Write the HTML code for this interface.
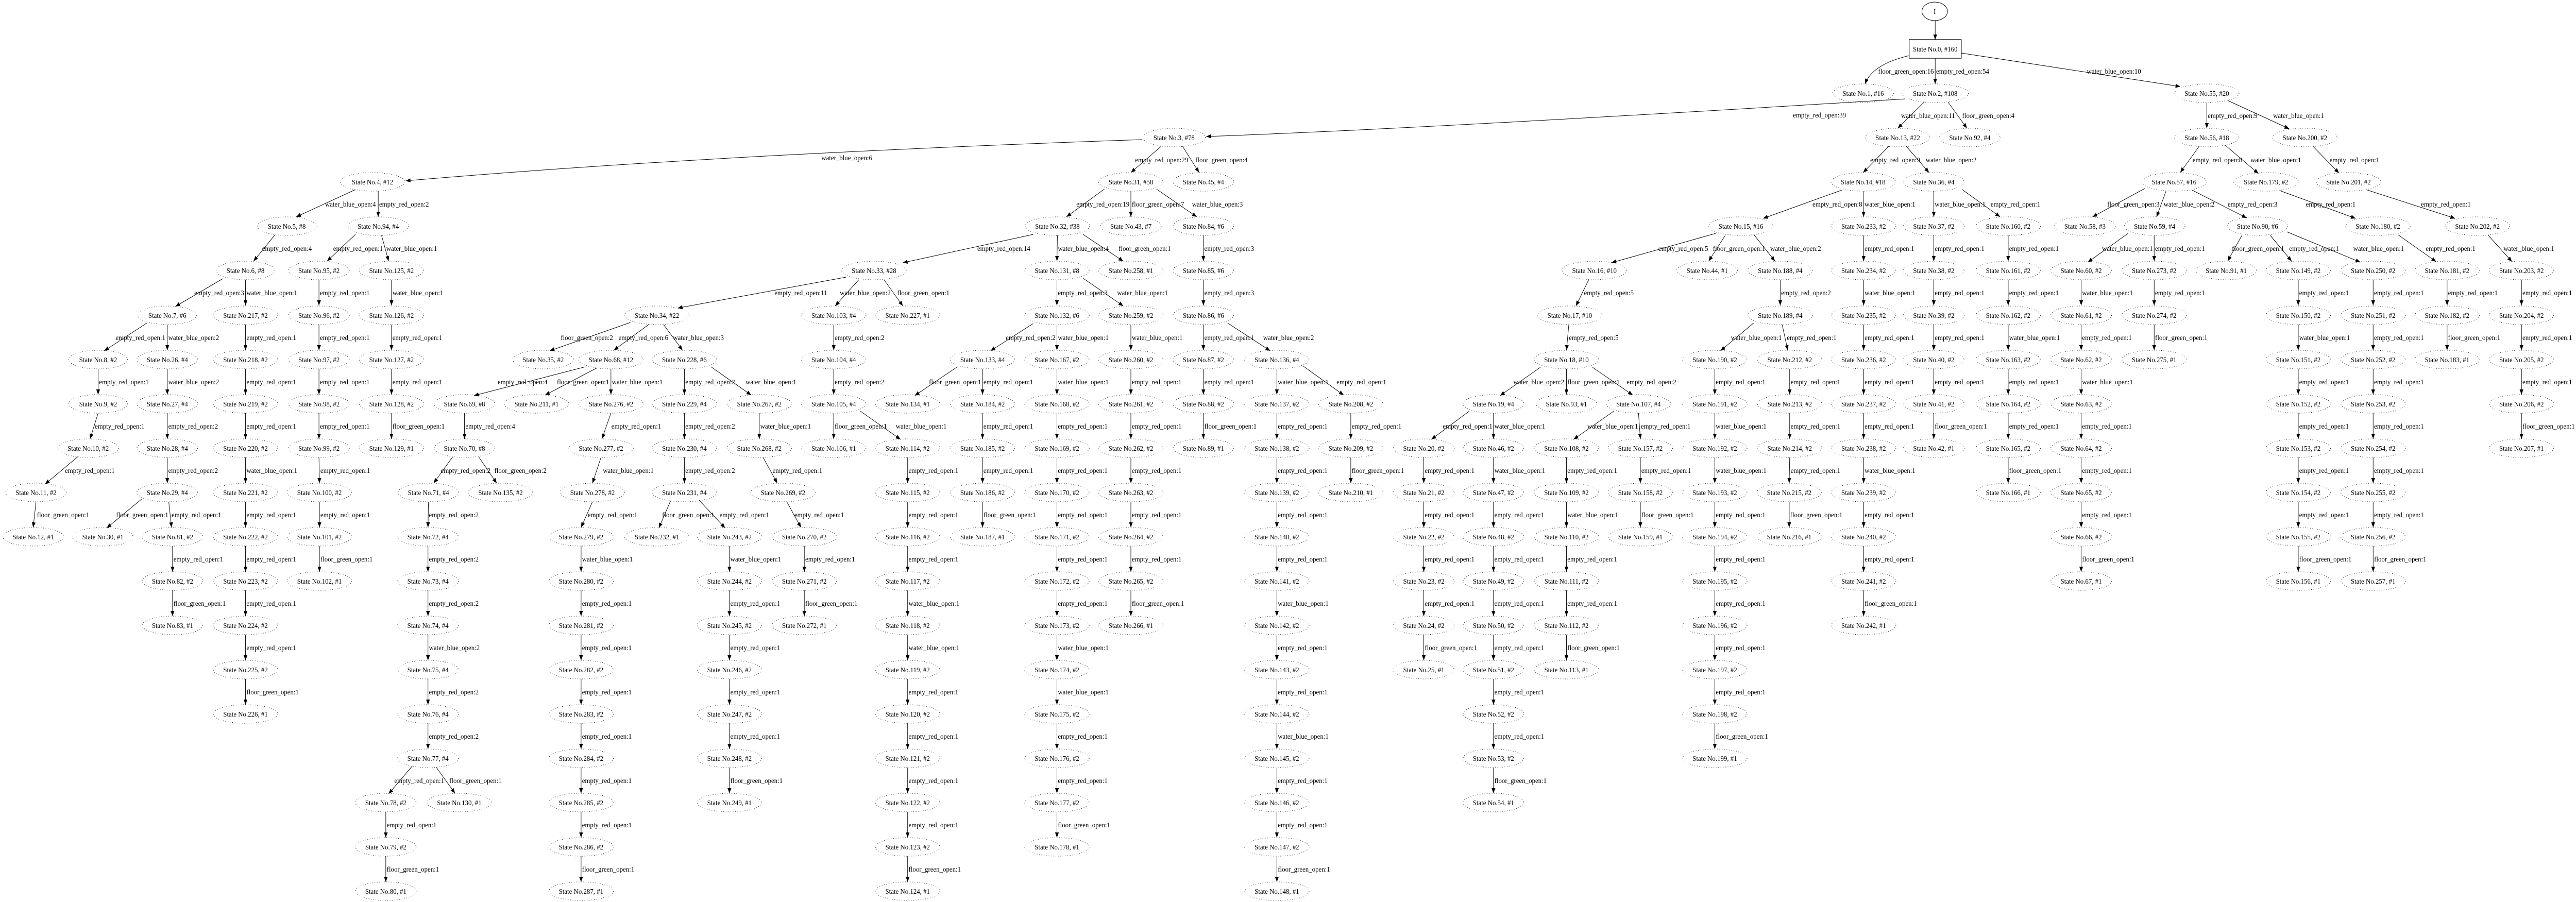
<!DOCTYPE html>
<html><head><meta charset="utf-8"><style>
html,body{margin:0;padding:0;background:#fff;overflow:hidden;width:100%;height:100%}
svg{display:block;width:100vw;height:100vh}
svg text{font-family:"Liberation Serif",serif;font-size:14px;fill:#000}
.n text{text-anchor:middle}
.n ellipse{fill:none;stroke:#000;stroke-width:1;stroke-dasharray:1 4}
.l path{fill:none;stroke:#000;stroke-width:1;marker-end:url(#a)}
.l text{text-anchor:start}
.l text.e{text-anchor:end}
</style></head><body>
<svg width="5435" height="1751" viewBox="0 0 5435 1751" preserveAspectRatio="none" xmlns="http://www.w3.org/2000/svg">
<defs><marker id="a" markerUnits="userSpaceOnUse" markerWidth="10" markerHeight="8" refX="10" refY="4" orient="auto"><path d="M0,0 L10,4 L0,8 z" fill="#000" stroke="none"/></marker></defs>
<rect width="5435" height="1751" fill="#fff"/>

<!-- root -->
<g class="n"><ellipse cx="4082" cy="22" rx="27" ry="18" style="stroke-dasharray:none"/><text x="4082" y="27">I</text>
<rect x="4028" y="77" width="110" height="36" fill="none" stroke="#000" stroke-width="1.3"/><text x="4083" y="100">State No.0, #160</text></g>
<g class="l">
<path d="M4083 40V77"/>
<path d="M4028 108Q3950 125 3935 163"/><text class="e" x="4080" y="143">floor_green_open:16</text>
<path d="M4083 113V163"/><text x="4085" y="143">empty_red_open:54</text>
<path d="M4138 103L4600 168"/><text x="4403" y="143">water_blue_open:10</text>
<path d="M4020 192Q3000 250 2545 265"/><text x="3783" y="228">empty_red_open:39</text>
<path d="M2410 271Q1500 300 856 351"/><text x="1733" y="311">water_blue_open:6</text>
</g>

<!-- r1 -->
<g transform="translate(0,181)">
<g class="n">
<ellipse cx="3931" rx="64" ry="18"/><text x="3931" y="5">State No.1, #16</text>
<ellipse cx="4083" rx="70" ry="18"/><text x="4083" y="5">State No.2, #108</text>
<ellipse cx="4656" rx="68" ry="18"/><text x="4656" y="5">State No.55, #20</text>
</g><g class="l">
<path d="M4060 17L4004 68"/><text x="4011" y="48">water_blue_open:11</text>
<path d="M4110 17L4150 68"/><text x="4140" y="48">floor_green_open:4</text>
<path d="M4656 18V68"/><text x="4658" y="48">empty_red_open:9</text>
<path d="M4700 14L4830 69"/><text x="4796" y="48">water_blue_open:1</text>
</g></g>

<!-- r2 -->
<g transform="translate(0,267)">
<g class="n">
<ellipse cx="2477" rx="66" ry="18"/><text x="2477" y="5">State No.3, #78</text>
<ellipse cx="4004" rx="68" ry="18"/><text x="4004" y="5">State No.13, #22</text>
<ellipse cx="4156" rx="64" ry="18"/><text x="4156" y="5">State No.92, #4</text>
<ellipse cx="4656" rx="68" ry="18"/><text x="4656" y="5">State No.56, #18</text>
<ellipse cx="4863" rx="68" ry="18"/><text x="4863" y="5">State No.200, #2</text>
</g><g class="l">
<path d="M2450 17L2386 68"/><text x="2395" y="48">empty_red_open:29</text>
<path d="M2495 17L2530 68"/><text x="2522" y="48">floor_green_open:4</text>
<path d="M3985 17L3931 68"/><text x="3946" y="48">empty_red_open:9</text>
<path d="M4022 17L4070 68"/><text x="4063" y="48">water_blue_open:2</text>
<path d="M4640 17L4600 68"/><text x="4626" y="48">empty_red_open:8</text>
<path d="M4695 15L4765 70"/><text x="4748" y="48">water_blue_open:1</text>
<path d="M4880 17L4935 69"/><text x="4915" y="48">empty_red_open:1</text>
</g></g>

<!-- r3 -->
<g transform="translate(0,353)">
<g class="n">
<ellipse cx="786" rx="68" ry="18"/><text x="786" y="5">State No.4, #12</text>
<ellipse cx="2386" rx="68" ry="18"/><text x="2386" y="5">State No.31, #58</text>
<ellipse cx="2539" rx="64" ry="18"/><text x="2539" y="5">State No.45, #4</text>
<ellipse cx="3931" rx="68" ry="18"/><text x="3931" y="5">State No.14, #18</text>
<ellipse cx="4080" rx="64" ry="18"/><text x="4080" y="5">State No.36, #4</text>
<ellipse cx="4587" rx="68" ry="18"/><text x="4587" y="5">State No.57, #16</text>
<ellipse cx="4781" rx="68" ry="18"/><text x="4781" y="5">State No.179, #2</text>
<ellipse cx="4955" rx="68" ry="18"/><text x="4955" y="5">State No.201, #2</text>
</g><g class="l">
<path d="M750 15L625 68"/><text class="e" x="793" y="48">water_blue_open:4</text>
<path d="M798 18V68"/><text x="800" y="48">empty_red_open:2</text>
<path d="M2330 14L2250 68"/><text x="2271" y="48">empty_red_open:19</text>
<path d="M2386 18V68"/><text x="2388" y="48">floor_green_open:7</text>
<path d="M2440 14L2525 68"/><text x="2515" y="48">water_blue_open:3</text>
<path d="M3886 16L3720 71"/><text class="e" x="3929" y="48">empty_red_open:8</text>
<path d="M3931 18L3932 68"/><text x="3934" y="48">water_blue_open:1</text>
<path d="M4080 18V68"/><text x="4082" y="48">water_blue_open:1</text>
<path d="M4140 15L4220 68"/><text x="4200" y="48">empty_red_open:1</text>
<path d="M4525 13L4415 68"/><text x="4446" y="48">floor_green_open:3</text>
<path d="M4570 18L4550 68"/><text x="4565" y="48">water_blue_open:2</text>
<path d="M4625 16L4740 70"/><text x="4700" y="48">empty_red_open:3</text>
<path d="M4810 17L4970 71"/><text x="4865" y="48">empty_red_open:1</text>
<path d="M4995 16L5180 71"/><text x="5108" y="48">empty_red_open:1</text>
</g></g>

<!-- r4 -->
<g transform="translate(0,439)">
<g class="n">
<ellipse cx="605" rx="62" ry="18"/><text x="605" y="5">State No.5, #8</text>
<ellipse cx="798" rx="64" ry="18"/><text x="798" y="5">State No.94, #4</text>
<ellipse cx="2231" rx="68" ry="18"/><text x="2231" y="5">State No.32, #38</text>
<ellipse cx="2386" rx="64" ry="18"/><text x="2386" y="5">State No.43, #7</text>
<ellipse cx="2539" rx="64" ry="18"/><text x="2539" y="5">State No.84, #6</text>
<ellipse cx="3673" rx="68" ry="18"/><text x="3673" y="5">State No.15, #16</text>
<ellipse cx="3932" rx="68" ry="18"/><text x="3932" y="5">State No.233, #2</text>
<ellipse cx="4080" rx="64" ry="18"/><text x="4080" y="5">State No.37, #2</text>
<ellipse cx="4237" rx="68" ry="18"/><text x="4237" y="5">State No.160, #2</text>
<ellipse cx="4399" rx="64" ry="18"/><text x="4399" y="5">State No.58, #3</text>
<ellipse cx="4546" rx="64" ry="18"/><text x="4546" y="5">State No.59, #4</text>
<ellipse cx="4763" rx="64" ry="18"/><text x="4763" y="5">State No.90, #6</text>
<ellipse cx="5017" rx="68" ry="18"/><text x="5017" y="5">State No.180, #2</text>
<ellipse cx="5227" rx="68" ry="18"/><text x="5227" y="5">State No.202, #2</text>
</g><g class="l">
<path d="M580 17L535 68"/><text x="553" y="48">empty_red_open:4</text>
<path d="M750 16L690 68"/><text x="703" y="48">empty_red_open:1</text>
<path d="M805 18L820 68"/><text x="815" y="48">water_blue_open:1</text>
<path d="M2180 16L1905 71"/><text x="2062" y="48">empty_red_open:14</text>
<path d="M2231 18L2230 68"/><text x="2232" y="48">water_blue_open:4</text>
<path d="M2285 16L2370 68"/><text x="2360" y="48">floor_green_open:1</text>
<path d="M2539 18V68"/><text x="2541" y="48">empty_red_open:3</text>
<path d="M3620 14L3400 71"/><text class="e" x="3604" y="48">empty_red_open:5</text>
<path d="M3640 18L3605 68"/><text x="3614" y="48">floor_green_open:1</text>
<path d="M3700 16L3745 68"/><text x="3735" y="48">water_blue_open:2</text>
<path d="M3932 18V68"/><text x="3934" y="48">empty_red_open:1</text>
<path d="M4080 18V68"/><text x="4082" y="48">empty_red_open:1</text>
<path d="M4237 18V68"/><text x="4239" y="48">empty_red_open:1</text>
<path d="M4490 14L4405 70"/><text x="4435" y="48">water_blue_open:1</text>
<path d="M4545 18V68"/><text x="4547" y="48">empty_red_open:1</text>
<path d="M4730 18L4700 68"/><text x="4709" y="48">floor_green_open:1</text>
<path d="M4790 18L4835 68"/><text x="4830" y="48">empty_red_open:1</text>
<path d="M4825 11L4980 70"/><text x="4965" y="48">water_blue_open:1</text>
<path d="M5060 17L5140 69"/><text x="5118" y="48">empty_red_open:1</text>
<path d="M5250 18L5300 69"/><text x="5282" y="48">water_blue_open:1</text>
</g></g>

<!-- r5 -->
<g transform="translate(0,525)">
<g class="n">
<ellipse cx="518" rx="62" ry="18"/><text x="518" y="5">State No.6, #8</text>
<ellipse cx="673" rx="64" ry="18"/><text x="673" y="5">State No.95, #2</text>
<ellipse cx="826" rx="68" ry="18"/><text x="826" y="5">State No.125, #2</text>
<ellipse cx="1844" rx="68" ry="18"/><text x="1844" y="5">State No.33, #28</text>
<ellipse cx="2230" rx="68" ry="18"/><text x="2230" y="5">State No.131, #8</text>
<ellipse cx="2386" rx="68" ry="18"/><text x="2386" y="5">State No.258, #1</text>
<ellipse cx="2539" rx="64" ry="18"/><text x="2539" y="5">State No.85, #6</text>
<ellipse cx="3364" rx="68" ry="18"/><text x="3364" y="5">State No.16, #10</text>
<ellipse cx="3602" rx="64" ry="18"/><text x="3602" y="5">State No.44, #1</text>
<ellipse cx="3756" rx="68" ry="18"/><text x="3756" y="5">State No.188, #4</text>
<ellipse cx="3932" rx="68" ry="18"/><text x="3932" y="5">State No.234, #2</text>
<ellipse cx="4080" rx="64" ry="18"/><text x="4080" y="5">State No.38, #2</text>
<ellipse cx="4237" rx="68" ry="18"/><text x="4237" y="5">State No.161, #2</text>
<ellipse cx="4391" rx="64" ry="18"/><text x="4391" y="5">State No.60, #2</text>
<ellipse cx="4545" rx="68" ry="18"/><text x="4545" y="5">State No.273, #2</text>
<ellipse cx="4697" rx="64" ry="18"/><text x="4697" y="5">State No.91, #1</text>
<ellipse cx="4849" rx="68" ry="18"/><text x="4849" y="5">State No.149, #2</text>
<ellipse cx="5007" rx="68" ry="18"/><text x="5007" y="5">State No.250, #2</text>
<ellipse cx="5163" rx="68" ry="18"/><text x="5163" y="5">State No.181, #2</text>
<ellipse cx="5320" rx="68" ry="18"/><text x="5320" y="5">State No.203, #2</text>
</g><g class="l">
<path d="M470 16L370 70"/><text x="410" y="48">empty_red_open:3</text>
<path d="M518 18V68"/><text x="520" y="48">water_blue_open:1</text>
<path d="M673 18V68"/><text x="675" y="48">empty_red_open:1</text>
<path d="M826 18V68"/><text x="828" y="48">water_blue_open:1</text>
<path d="M1785 13L1430 73"/><text x="1634" y="48">empty_red_open:11</text>
<path d="M1812 18L1762 69"/><text x="1772" y="48">water_blue_open:2</text>
<path d="M1865 18L1905 69"/><text x="1893" y="48">floor_green_open:1</text>
<path d="M2230 18V68"/><text x="2232" y="48">empty_red_open:3</text>
<path d="M2285 15L2370 69"/><text x="2357" y="48">water_blue_open:1</text>
<path d="M2539 18V68"/><text x="2541" y="48">empty_red_open:3</text>
<path d="M3352 18L3325 69"/><text x="3342" y="48">empty_red_open:5</text>
<path d="M3756 18V68"/><text x="3758" y="48">empty_red_open:2</text>
<path d="M3932 18V68"/><text x="3934" y="48">water_blue_open:1</text>
<path d="M4080 18V68"/><text x="4082" y="48">empty_red_open:1</text>
<path d="M4237 18V68"/><text x="4239" y="48">empty_red_open:1</text>
<path d="M4391 18V68"/><text x="4393" y="48">water_blue_open:1</text>
<path d="M4545 18V68"/><text x="4547" y="48">empty_red_open:1</text>
<path d="M4849 18V68"/><text x="4851" y="48">empty_red_open:1</text>
<path d="M5007 18V68"/><text x="5009" y="48">empty_red_open:1</text>
<path d="M5163 18V68"/><text x="5165" y="48">empty_red_open:1</text>
<path d="M5320 18V68"/><text x="5322" y="48">empty_red_open:1</text>
</g></g>

<!-- r6 -->
<g transform="translate(0,612)">
<g class="n">
<ellipse cx="353" rx="62" ry="18"/><text x="353" y="5">State No.7, #6</text>
<ellipse cx="518" rx="68" ry="18"/><text x="518" y="5">State No.217, #2</text>
<ellipse cx="673" rx="64" ry="18"/><text x="673" y="5">State No.96, #2</text>
<ellipse cx="826" rx="68" ry="18"/><text x="826" y="5">State No.126, #2</text>
<ellipse cx="1386" rx="68" ry="18"/><text x="1386" y="5">State No.34, #22</text>
<ellipse cx="1759" rx="68" ry="18"/><text x="1759" y="5">State No.103, #4</text>
<ellipse cx="1915" rx="68" ry="18"/><text x="1915" y="5">State No.227, #1</text>
<ellipse cx="2230" rx="68" ry="18"/><text x="2230" y="5">State No.132, #6</text>
<ellipse cx="2386" rx="68" ry="18"/><text x="2386" y="5">State No.259, #2</text>
<ellipse cx="2539" rx="64" ry="18"/><text x="2539" y="5">State No.86, #6</text>
<ellipse cx="3312" rx="68" ry="18"/><text x="3312" y="5">State No.17, #10</text>
<ellipse cx="3756" rx="68" ry="18"/><text x="3756" y="5">State No.189, #4</text>
<ellipse cx="3932" rx="68" ry="18"/><text x="3932" y="5">State No.235, #2</text>
<ellipse cx="4080" rx="64" ry="18"/><text x="4080" y="5">State No.39, #2</text>
<ellipse cx="4237" rx="68" ry="18"/><text x="4237" y="5">State No.162, #2</text>
<ellipse cx="4391" rx="64" ry="18"/><text x="4391" y="5">State No.61, #2</text>
<ellipse cx="4545" rx="68" ry="18"/><text x="4545" y="5">State No.274, #2</text>
<ellipse cx="4849" rx="68" ry="18"/><text x="4849" y="5">State No.150, #2</text>
<ellipse cx="5007" rx="68" ry="18"/><text x="5007" y="5">State No.251, #2</text>
<ellipse cx="5163" rx="68" ry="18"/><text x="5163" y="5">State No.182, #2</text>
<ellipse cx="5320" rx="68" ry="18"/><text x="5320" y="5">State No.204, #2</text>
</g><g class="l">
<path d="M310 15L220 69"/><text x="244" y="48">empty_red_open:1</text>
<path d="M353 18V68"/><text x="355" y="48">water_blue_open:2</text>
<path d="M518 18V68"/><text x="520" y="48">empty_red_open:1</text>
<path d="M673 18V68"/><text x="675" y="48">empty_red_open:1</text>
<path d="M826 18V68"/><text x="828" y="48">empty_red_open:1</text>
<path d="M1330 14L1160 69"/><text x="1183" y="48">floor_green_open:2</text>
<path d="M1370 17L1295 68"/><text x="1305" y="48">empty_red_open:6</text>
<path d="M1400 18L1440 68"/><text x="1420" y="48">water_blue_open:3</text>
<path d="M1759 18V68"/><text x="1761" y="48">empty_red_open:2</text>
<path d="M2180 16L2090 69"/><text x="2122" y="48">empty_red_open:2</text>
<path d="M2230 18V68"/><text x="2232" y="48">water_blue_open:1</text>
<path d="M2386 18V68"/><text x="2388" y="48">water_blue_open:1</text>
<path d="M2539 18V68"/><text x="2541" y="48">empty_red_open:1</text>
<path d="M2590 15L2680 69"/><text x="2665" y="48">water_blue_open:2</text>
<path d="M3310 18L3305 68"/><text x="3310" y="48">empty_red_open:5</text>
<path d="M3700 15L3630 69"/><text x="3652" y="48">water_blue_open:1</text>
<path d="M3760 18L3772 68"/><text x="3770" y="48">empty_red_open:1</text>
<path d="M3932 18V68"/><text x="3934" y="48">empty_red_open:1</text>
<path d="M4080 18V68"/><text x="4082" y="48">empty_red_open:1</text>
<path d="M4237 18V68"/><text x="4239" y="48">water_blue_open:1</text>
<path d="M4391 18V68"/><text x="4393" y="48">empty_red_open:1</text>
<path d="M4545 18V68"/><text x="4547" y="48">floor_green_open:1</text>
<path d="M4849 18V68"/><text x="4851" y="48">water_blue_open:1</text>
<path d="M5007 18V68"/><text x="5009" y="48">empty_red_open:1</text>
<path d="M5163 18V68"/><text x="5165" y="48">floor_green_open:1</text>
<path d="M5320 18V68"/><text x="5322" y="48">empty_red_open:1</text>
</g></g>

<!-- r7 -->
<g transform="translate(0,698)">
<g class="n">
<ellipse cx="207" rx="62" ry="18"/><text x="207" y="5">State No.8, #2</text>
<ellipse cx="353" rx="64" ry="18"/><text x="353" y="5">State No.26, #4</text>
<ellipse cx="518" rx="68" ry="18"/><text x="518" y="5">State No.218, #2</text>
<ellipse cx="673" rx="64" ry="18"/><text x="673" y="5">State No.97, #2</text>
<ellipse cx="826" rx="68" ry="18"/><text x="826" y="5">State No.127, #2</text>
<ellipse cx="1146" rx="64" ry="18"/><text x="1146" y="5">State No.35, #2</text>
<ellipse cx="1289" rx="68" ry="18"/><text x="1289" y="5">State No.68, #12</text>
<ellipse cx="1444" rx="68" ry="18"/><text x="1444" y="5">State No.228, #6</text>
<ellipse cx="1759" rx="68" ry="18"/><text x="1759" y="5">State No.104, #4</text>
<ellipse cx="2073" rx="68" ry="18"/><text x="2073" y="5">State No.133, #4</text>
<ellipse cx="2230" rx="68" ry="18"/><text x="2230" y="5">State No.167, #2</text>
<ellipse cx="2386" rx="68" ry="18"/><text x="2386" y="5">State No.260, #2</text>
<ellipse cx="2539" rx="64" ry="18"/><text x="2539" y="5">State No.87, #2</text>
<ellipse cx="2694" rx="68" ry="18"/><text x="2694" y="5">State No.136, #4</text>
<ellipse cx="3305" rx="68" ry="18"/><text x="3305" y="5">State No.18, #10</text>
<ellipse cx="3618" rx="68" ry="18"/><text x="3618" y="5">State No.190, #2</text>
<ellipse cx="3776" rx="68" ry="18"/><text x="3776" y="5">State No.212, #2</text>
<ellipse cx="3932" rx="68" ry="18"/><text x="3932" y="5">State No.236, #2</text>
<ellipse cx="4080" rx="64" ry="18"/><text x="4080" y="5">State No.40, #2</text>
<ellipse cx="4237" rx="68" ry="18"/><text x="4237" y="5">State No.163, #2</text>
<ellipse cx="4391" rx="64" ry="18"/><text x="4391" y="5">State No.62, #2</text>
<ellipse cx="4545" rx="68" ry="18"/><text x="4545" y="5">State No.275, #1</text>
<ellipse cx="4849" rx="68" ry="18"/><text x="4849" y="5">State No.151, #2</text>
<ellipse cx="5007" rx="68" ry="18"/><text x="5007" y="5">State No.252, #2</text>
<ellipse cx="5163" rx="68" ry="18"/><text x="5163" y="5">State No.183, #1</text>
<ellipse cx="5320" rx="68" ry="18"/><text x="5320" y="5">State No.205, #2</text>
</g><g class="l">
<path d="M207 18V68"/><text x="209" y="48">empty_red_open:1</text>
<path d="M353 18V68"/><text x="355" y="48">water_blue_open:2</text>
<path d="M518 18V68"/><text x="520" y="48">empty_red_open:1</text>
<path d="M673 18V68"/><text x="675" y="48">empty_red_open:1</text>
<path d="M826 18V68"/><text x="828" y="48">empty_red_open:1</text>
<path d="M1235 14L1000 70"/><text x="1050" y="48">empty_red_open:4</text>
<path d="M1260 16L1150 69"/><text x="1175" y="48">floor_green_open:1</text>
<path d="M1289 18V68"/><text x="1291" y="48">water_blue_open:1</text>
<path d="M1444 18V68"/><text x="1446" y="48">empty_red_open:2</text>
<path d="M1500 14L1585 69"/><text x="1573" y="48">water_blue_open:1</text>
<path d="M1759 18V68"/><text x="1761" y="48">empty_red_open:2</text>
<path d="M2020 14L1930 70"/><text x="1960" y="48">floor_green_open:1</text>
<path d="M2073 18V68"/><text x="2075" y="48">empty_red_open:1</text>
<path d="M2230 18V68"/><text x="2232" y="48">water_blue_open:1</text>
<path d="M2386 18V68"/><text x="2388" y="48">empty_red_open:1</text>
<path d="M2539 18V68"/><text x="2541" y="48">empty_red_open:1</text>
<path d="M2694 18V68"/><text x="2696" y="48">water_blue_open:1</text>
<path d="M2750 13L2835 69"/><text x="2820" y="48">empty_red_open:1</text>
<path d="M3250 15L3165 70"/><text x="3193" y="48">water_blue_open:2</text>
<path d="M3305 18V68"/><text x="3307" y="48">floor_green_open:1</text>
<path d="M3360 15L3445 69"/><text x="3432" y="48">empty_red_open:2</text>
<path d="M3618 18V68"/><text x="3620" y="48">empty_red_open:1</text>
<path d="M3776 18V68"/><text x="3778" y="48">empty_red_open:1</text>
<path d="M3932 18V68"/><text x="3934" y="48">empty_red_open:1</text>
<path d="M4080 18V68"/><text x="4082" y="48">empty_red_open:1</text>
<path d="M4237 18V68"/><text x="4239" y="48">empty_red_open:1</text>
<path d="M4391 18V68"/><text x="4393" y="48">water_blue_open:1</text>
<path d="M4849 18V68"/><text x="4851" y="48">empty_red_open:1</text>
<path d="M5007 18V68"/><text x="5009" y="48">empty_red_open:1</text>
<path d="M5320 18V68"/><text x="5322" y="48">empty_red_open:1</text>
</g></g>

<!-- r8 -->
<g transform="translate(0,784)">
<g class="n">
<ellipse cx="207" rx="62" ry="18"/><text x="207" y="5">State No.9, #2</text>
<ellipse cx="353" rx="64" ry="18"/><text x="353" y="5">State No.27, #4</text>
<ellipse cx="518" rx="68" ry="18"/><text x="518" y="5">State No.219, #2</text>
<ellipse cx="673" rx="64" ry="18"/><text x="673" y="5">State No.98, #2</text>
<ellipse cx="826" rx="68" ry="18"/><text x="826" y="5">State No.128, #2</text>
<ellipse cx="980" rx="64" ry="18"/><text x="980" y="5">State No.69, #8</text>
<ellipse cx="1132" rx="68" ry="18"/><text x="1132" y="5">State No.211, #1</text>
<ellipse cx="1289" rx="68" ry="18"/><text x="1289" y="5">State No.276, #2</text>
<ellipse cx="1444" rx="68" ry="18"/><text x="1444" y="5">State No.229, #4</text>
<ellipse cx="1602" rx="68" ry="18"/><text x="1602" y="5">State No.267, #2</text>
<ellipse cx="1759" rx="68" ry="18"/><text x="1759" y="5">State No.105, #4</text>
<ellipse cx="1915" rx="68" ry="18"/><text x="1915" y="5">State No.134, #1</text>
<ellipse cx="2073" rx="68" ry="18"/><text x="2073" y="5">State No.184, #2</text>
<ellipse cx="2230" rx="68" ry="18"/><text x="2230" y="5">State No.168, #2</text>
<ellipse cx="2386" rx="68" ry="18"/><text x="2386" y="5">State No.261, #2</text>
<ellipse cx="2539" rx="64" ry="18"/><text x="2539" y="5">State No.88, #2</text>
<ellipse cx="2694" rx="68" ry="18"/><text x="2694" y="5">State No.137, #2</text>
<ellipse cx="2850" rx="68" ry="18"/><text x="2850" y="5">State No.208, #2</text>
<ellipse cx="3151" rx="64" ry="18"/><text x="3151" y="5">State No.19, #4</text>
<ellipse cx="3305" rx="64" ry="18"/><text x="3305" y="5">State No.93, #1</text>
<ellipse cx="3457" rx="68" ry="18"/><text x="3457" y="5">State No.107, #4</text>
<ellipse cx="3618" rx="68" ry="18"/><text x="3618" y="5">State No.191, #2</text>
<ellipse cx="3776" rx="68" ry="18"/><text x="3776" y="5">State No.213, #2</text>
<ellipse cx="3932" rx="68" ry="18"/><text x="3932" y="5">State No.237, #2</text>
<ellipse cx="4080" rx="64" ry="18"/><text x="4080" y="5">State No.41, #2</text>
<ellipse cx="4237" rx="68" ry="18"/><text x="4237" y="5">State No.164, #2</text>
<ellipse cx="4391" rx="64" ry="18"/><text x="4391" y="5">State No.63, #2</text>
<ellipse cx="4849" rx="68" ry="18"/><text x="4849" y="5">State No.152, #2</text>
<ellipse cx="5007" rx="68" ry="18"/><text x="5007" y="5">State No.253, #2</text>
<ellipse cx="5320" rx="68" ry="18"/><text x="5320" y="5">State No.206, #2</text>
</g><g class="l">
<path d="M207 18L190 68"/><text x="200" y="48">empty_red_open:1</text>
<path d="M353 18V68"/><text x="355" y="48">empty_red_open:2</text>
<path d="M518 18V68"/><text x="520" y="48">empty_red_open:1</text>
<path d="M673 18V68"/><text x="675" y="48">empty_red_open:1</text>
<path d="M826 18V68"/><text x="828" y="48">floor_green_open:1</text>
<path d="M980 18V68"/><text x="982" y="48">empty_red_open:4</text>
<path d="M1289 18L1270 68"/><text x="1290" y="48">empty_red_open:1</text>
<path d="M1444 18V68"/><text x="1446" y="48">empty_red_open:2</text>
<path d="M1602 18V68"/><text x="1604" y="48">water_blue_open:1</text>
<path d="M1759 18V68"/><text x="1761" y="48">floor_green_open:1</text>
<path d="M1815 14L1900 69"/><text x="1890" y="48">water_blue_open:1</text>
<path d="M2073 18V68"/><text x="2075" y="48">empty_red_open:1</text>
<path d="M2230 18V68"/><text x="2232" y="48">empty_red_open:1</text>
<path d="M2386 18V68"/><text x="2388" y="48">empty_red_open:1</text>
<path d="M2539 18V68"/><text x="2541" y="48">floor_green_open:1</text>
<path d="M2694 18V68"/><text x="2696" y="48">empty_red_open:1</text>
<path d="M2850 18V68"/><text x="2852" y="48">empty_red_open:1</text>
<path d="M3100 14L3020 69"/><text x="3044" y="48">empty_red_open:1</text>
<path d="M3151 18V68"/><text x="3153" y="48">water_blue_open:1</text>
<path d="M3405 14L3320 69"/><text x="3349" y="48">water_blue_open:1</text>
<path d="M3457 18L3461 68"/><text x="3462" y="48">empty_red_open:1</text>
<path d="M3618 18V68"/><text x="3620" y="48">water_blue_open:1</text>
<path d="M3776 18V68"/><text x="3778" y="48">empty_red_open:1</text>
<path d="M3932 18V68"/><text x="3934" y="48">empty_red_open:1</text>
<path d="M4080 18V68"/><text x="4082" y="48">floor_green_open:1</text>
<path d="M4237 18V68"/><text x="4239" y="48">empty_red_open:1</text>
<path d="M4391 18V68"/><text x="4393" y="48">empty_red_open:1</text>
<path d="M4849 18V68"/><text x="4851" y="48">empty_red_open:1</text>
<path d="M5007 18V68"/><text x="5009" y="48">empty_red_open:1</text>
<path d="M5320 18V68"/><text x="5322" y="48">floor_green_open:1</text>
</g></g>

<!-- r9 -->
<g transform="translate(0,870)">
<g class="n">
<ellipse cx="186" rx="64" ry="18"/><text x="186" y="5">State No.10, #2</text>
<ellipse cx="353" rx="64" ry="18"/><text x="353" y="5">State No.28, #4</text>
<ellipse cx="518" rx="68" ry="18"/><text x="518" y="5">State No.220, #2</text>
<ellipse cx="673" rx="64" ry="18"/><text x="673" y="5">State No.99, #2</text>
<ellipse cx="826" rx="68" ry="18"/><text x="826" y="5">State No.129, #1</text>
<ellipse cx="980" rx="64" ry="18"/><text x="980" y="5">State No.70, #8</text>
<ellipse cx="1268" rx="68" ry="18"/><text x="1268" y="5">State No.277, #2</text>
<ellipse cx="1444" rx="68" ry="18"/><text x="1444" y="5">State No.230, #4</text>
<ellipse cx="1602" rx="68" ry="18"/><text x="1602" y="5">State No.268, #2</text>
<ellipse cx="1759" rx="68" ry="18"/><text x="1759" y="5">State No.106, #1</text>
<ellipse cx="1915" rx="68" ry="18"/><text x="1915" y="5">State No.114, #2</text>
<ellipse cx="2073" rx="68" ry="18"/><text x="2073" y="5">State No.185, #2</text>
<ellipse cx="2230" rx="68" ry="18"/><text x="2230" y="5">State No.169, #2</text>
<ellipse cx="2386" rx="68" ry="18"/><text x="2386" y="5">State No.262, #2</text>
<ellipse cx="2539" rx="64" ry="18"/><text x="2539" y="5">State No.89, #1</text>
<ellipse cx="2694" rx="68" ry="18"/><text x="2694" y="5">State No.138, #2</text>
<ellipse cx="2850" rx="68" ry="18"/><text x="2850" y="5">State No.209, #2</text>
<ellipse cx="3004" rx="64" ry="18"/><text x="3004" y="5">State No.20, #2</text>
<ellipse cx="3151" rx="64" ry="18"/><text x="3151" y="5">State No.46, #2</text>
<ellipse cx="3305" rx="68" ry="18"/><text x="3305" y="5">State No.108, #2</text>
<ellipse cx="3461" rx="68" ry="18"/><text x="3461" y="5">State No.157, #2</text>
<ellipse cx="3618" rx="68" ry="18"/><text x="3618" y="5">State No.192, #2</text>
<ellipse cx="3776" rx="68" ry="18"/><text x="3776" y="5">State No.214, #2</text>
<ellipse cx="3932" rx="68" ry="18"/><text x="3932" y="5">State No.238, #2</text>
<ellipse cx="4080" rx="64" ry="18"/><text x="4080" y="5">State No.42, #1</text>
<ellipse cx="4237" rx="68" ry="18"/><text x="4237" y="5">State No.165, #2</text>
<ellipse cx="4391" rx="64" ry="18"/><text x="4391" y="5">State No.64, #2</text>
<ellipse cx="4849" rx="68" ry="18"/><text x="4849" y="5">State No.153, #2</text>
<ellipse cx="5007" rx="68" ry="18"/><text x="5007" y="5">State No.254, #2</text>
<ellipse cx="5320" rx="68" ry="18"/><text x="5320" y="5">State No.207, #1</text>
</g><g class="l">
<path d="M165 16L95 70"/><text x="137" y="48">empty_red_open:1</text>
<path d="M353 18V68"/><text x="355" y="48">empty_red_open:2</text>
<path d="M518 18V68"/><text x="520" y="48">water_blue_open:1</text>
<path d="M673 18L674 68"/><text x="676" y="48">empty_red_open:1</text>
<path d="M955 17L915 68"/><text x="930" y="48">empty_red_open:2</text>
<path d="M1010 17L1048 68"/><text x="1043" y="48">floor_green_open:2</text>
<path d="M1268 18L1250 68"/><text x="1272" y="48">water_blue_open:1</text>
<path d="M1444 18V68"/><text x="1446" y="48">empty_red_open:2</text>
<path d="M1610 18L1640 68"/><text x="1630" y="48">empty_red_open:1</text>
<path d="M1915 18V68"/><text x="1917" y="48">empty_red_open:1</text>
<path d="M2073 18V68"/><text x="2075" y="48">empty_red_open:1</text>
<path d="M2230 18V68"/><text x="2232" y="48">empty_red_open:1</text>
<path d="M2386 18V68"/><text x="2388" y="48">empty_red_open:1</text>
<path d="M2694 18V68"/><text x="2696" y="48">empty_red_open:1</text>
<path d="M2850 18V68"/><text x="2852" y="48">floor_green_open:1</text>
<path d="M3004 18V68"/><text x="3006" y="48">empty_red_open:1</text>
<path d="M3151 18V68"/><text x="3153" y="48">water_blue_open:1</text>
<path d="M3305 18V68"/><text x="3307" y="48">empty_red_open:1</text>
<path d="M3461 18V68"/><text x="3463" y="48">empty_red_open:1</text>
<path d="M3618 18V68"/><text x="3620" y="48">water_blue_open:1</text>
<path d="M3776 18L3775 68"/><text x="3778" y="48">empty_red_open:1</text>
<path d="M3932 18V68"/><text x="3934" y="48">water_blue_open:1</text>
<path d="M4237 18V68"/><text x="4239" y="48">floor_green_open:1</text>
<path d="M4391 18V68"/><text x="4393" y="48">empty_red_open:1</text>
<path d="M4849 18V68"/><text x="4851" y="48">empty_red_open:1</text>
<path d="M5007 18V68"/><text x="5009" y="48">empty_red_open:1</text>
</g></g>

<!-- r10 -->
<g transform="translate(0,956)">
<g class="n">
<ellipse cx="76" rx="64" ry="18"/><text x="76" y="5">State No.11, #2</text>
<ellipse cx="353" rx="64" ry="18"/><text x="353" y="5">State No.29, #4</text>
<ellipse cx="518" rx="68" ry="18"/><text x="518" y="5">State No.221, #2</text>
<ellipse cx="674" rx="68" ry="18"/><text x="674" y="5">State No.100, #2</text>
<ellipse cx="904" rx="64" ry="18"/><text x="904" y="5">State No.71, #4</text>
<ellipse cx="1056" rx="68" ry="18"/><text x="1056" y="5">State No.135, #2</text>
<ellipse cx="1250" rx="68" ry="18"/><text x="1250" y="5">State No.278, #2</text>
<ellipse cx="1444" rx="68" ry="18"/><text x="1444" y="5">State No.231, #4</text>
<ellipse cx="1652" rx="68" ry="18"/><text x="1652" y="5">State No.269, #2</text>
<ellipse cx="1915" rx="68" ry="18"/><text x="1915" y="5">State No.115, #2</text>
<ellipse cx="2073" rx="68" ry="18"/><text x="2073" y="5">State No.186, #2</text>
<ellipse cx="2230" rx="68" ry="18"/><text x="2230" y="5">State No.170, #2</text>
<ellipse cx="2386" rx="68" ry="18"/><text x="2386" y="5">State No.263, #2</text>
<ellipse cx="2694" rx="68" ry="18"/><text x="2694" y="5">State No.139, #2</text>
<ellipse cx="2850" rx="68" ry="18"/><text x="2850" y="5">State No.210, #1</text>
<ellipse cx="3004" rx="64" ry="18"/><text x="3004" y="5">State No.21, #2</text>
<ellipse cx="3151" rx="64" ry="18"/><text x="3151" y="5">State No.47, #2</text>
<ellipse cx="3305" rx="68" ry="18"/><text x="3305" y="5">State No.109, #2</text>
<ellipse cx="3461" rx="68" ry="18"/><text x="3461" y="5">State No.158, #2</text>
<ellipse cx="3618" rx="68" ry="18"/><text x="3618" y="5">State No.193, #2</text>
<ellipse cx="3775" rx="68" ry="18"/><text x="3775" y="5">State No.215, #2</text>
<ellipse cx="3932" rx="68" ry="18"/><text x="3932" y="5">State No.239, #2</text>
<ellipse cx="4237" rx="68" ry="18"/><text x="4237" y="5">State No.166, #1</text>
<ellipse cx="4391" rx="64" ry="18"/><text x="4391" y="5">State No.65, #2</text>
<ellipse cx="4849" rx="68" ry="18"/><text x="4849" y="5">State No.154, #2</text>
<ellipse cx="5007" rx="68" ry="18"/><text x="5007" y="5">State No.255, #2</text>
</g><g class="l">
<path d="M76 18L70 68"/><text x="78" y="48">floor_green_open:1</text>
<path d="M300 12L225 69"/><text x="245" y="48">floor_green_open:1</text>
<path d="M356 18L362 68"/><text x="362" y="48">empty_red_open:1</text>
<path d="M518 18V68"/><text x="520" y="48">empty_red_open:1</text>
<path d="M674 18V68"/><text x="676" y="48">empty_red_open:1</text>
<path d="M904 18L903 68"/><text x="905" y="48">empty_red_open:2</text>
<path d="M1250 18L1226 68"/><text x="1240" y="48">empty_red_open:1</text>
<path d="M1415 16L1390 69"/><text x="1397" y="48">floor_green_open:1</text>
<path d="M1475 15L1530 69"/><text x="1518" y="48">empty_red_open:1</text>
<path d="M1660 18L1690 68"/><text x="1676" y="48">empty_red_open:1</text>
<path d="M1915 18V68"/><text x="1917" y="48">empty_red_open:1</text>
<path d="M2073 18V68"/><text x="2075" y="48">floor_green_open:1</text>
<path d="M2230 18V68"/><text x="2232" y="48">empty_red_open:1</text>
<path d="M2386 18V68"/><text x="2388" y="48">empty_red_open:1</text>
<path d="M2694 18V68"/><text x="2696" y="48">empty_red_open:1</text>
<path d="M3004 18V68"/><text x="3006" y="48">empty_red_open:1</text>
<path d="M3151 18V68"/><text x="3153" y="48">empty_red_open:1</text>
<path d="M3305 18V68"/><text x="3307" y="48">water_blue_open:1</text>
<path d="M3461 18V68"/><text x="3463" y="48">floor_green_open:1</text>
<path d="M3618 18V68"/><text x="3620" y="48">empty_red_open:1</text>
<path d="M3775 18V68"/><text x="3777" y="48">floor_green_open:1</text>
<path d="M3932 18V68"/><text x="3934" y="48">empty_red_open:1</text>
<path d="M4391 18V68"/><text x="4393" y="48">empty_red_open:1</text>
<path d="M4849 18V68"/><text x="4851" y="48">empty_red_open:1</text>
<path d="M5007 18V68"/><text x="5009" y="48">empty_red_open:1</text>
</g></g>

<!-- r11 -->
<g transform="translate(0,1042)">
<g class="n">
<ellipse cx="70" rx="64" ry="18"/><text x="70" y="5">State No.12, #1</text>
<ellipse cx="217" rx="64" ry="18"/><text x="217" y="5">State No.30, #1</text>
<ellipse cx="364" rx="64" ry="18"/><text x="364" y="5">State No.81, #2</text>
<ellipse cx="518" rx="68" ry="18"/><text x="518" y="5">State No.222, #2</text>
<ellipse cx="674" rx="68" ry="18"/><text x="674" y="5">State No.101, #2</text>
<ellipse cx="903" rx="64" ry="18"/><text x="903" y="5">State No.72, #4</text>
<ellipse cx="1226" rx="68" ry="18"/><text x="1226" y="5">State No.279, #2</text>
<ellipse cx="1386" rx="68" ry="18"/><text x="1386" y="5">State No.232, #1</text>
<ellipse cx="1539" rx="68" ry="18"/><text x="1539" y="5">State No.243, #2</text>
<ellipse cx="1697" rx="68" ry="18"/><text x="1697" y="5">State No.270, #2</text>
<ellipse cx="1915" rx="68" ry="18"/><text x="1915" y="5">State No.116, #2</text>
<ellipse cx="2073" rx="68" ry="18"/><text x="2073" y="5">State No.187, #1</text>
<ellipse cx="2230" rx="68" ry="18"/><text x="2230" y="5">State No.171, #2</text>
<ellipse cx="2386" rx="68" ry="18"/><text x="2386" y="5">State No.264, #2</text>
<ellipse cx="2694" rx="68" ry="18"/><text x="2694" y="5">State No.140, #2</text>
<ellipse cx="3004" rx="64" ry="18"/><text x="3004" y="5">State No.22, #2</text>
<ellipse cx="3151" rx="64" ry="18"/><text x="3151" y="5">State No.48, #2</text>
<ellipse cx="3305" rx="68" ry="18"/><text x="3305" y="5">State No.110, #2</text>
<ellipse cx="3461" rx="68" ry="18"/><text x="3461" y="5">State No.159, #1</text>
<ellipse cx="3618" rx="68" ry="18"/><text x="3618" y="5">State No.194, #2</text>
<ellipse cx="3775" rx="68" ry="18"/><text x="3775" y="5">State No.216, #1</text>
<ellipse cx="3932" rx="68" ry="18"/><text x="3932" y="5">State No.240, #2</text>
<ellipse cx="4391" rx="64" ry="18"/><text x="4391" y="5">State No.66, #2</text>
<ellipse cx="4849" rx="68" ry="18"/><text x="4849" y="5">State No.155, #2</text>
<ellipse cx="5007" rx="68" ry="18"/><text x="5007" y="5">State No.256, #2</text>
</g><g class="l">
<path d="M364 18V68"/><text x="366" y="48">empty_red_open:1</text>
<path d="M518 18V68"/><text x="520" y="48">empty_red_open:1</text>
<path d="M674 18V68"/><text x="676" y="48">floor_green_open:1</text>
<path d="M903 18V68"/><text x="905" y="48">empty_red_open:2</text>
<path d="M1226 18V68"/><text x="1228" y="48">water_blue_open:1</text>
<path d="M1539 18V68"/><text x="1541" y="48">water_blue_open:1</text>
<path d="M1697 18V68"/><text x="1699" y="48">empty_red_open:1</text>
<path d="M1915 18V68"/><text x="1917" y="48">empty_red_open:1</text>
<path d="M2230 18V68"/><text x="2232" y="48">empty_red_open:1</text>
<path d="M2386 18V68"/><text x="2388" y="48">empty_red_open:1</text>
<path d="M2694 18V68"/><text x="2696" y="48">empty_red_open:1</text>
<path d="M3004 18V68"/><text x="3006" y="48">empty_red_open:1</text>
<path d="M3151 18V68"/><text x="3153" y="48">empty_red_open:1</text>
<path d="M3305 18V68"/><text x="3307" y="48">empty_red_open:1</text>
<path d="M3618 18V68"/><text x="3620" y="48">empty_red_open:1</text>
<path d="M3932 18V68"/><text x="3934" y="48">empty_red_open:1</text>
<path d="M4391 18V68"/><text x="4393" y="48">floor_green_open:1</text>
<path d="M4849 18V68"/><text x="4851" y="48">floor_green_open:1</text>
<path d="M5007 18V68"/><text x="5009" y="48">floor_green_open:1</text>
</g></g>

<!-- r12 -->
<g transform="translate(0,1128)">
<g class="n">
<ellipse cx="364" rx="64" ry="18"/><text x="364" y="5">State No.82, #2</text>
<ellipse cx="518" rx="68" ry="18"/><text x="518" y="5">State No.223, #2</text>
<ellipse cx="674" rx="68" ry="18"/><text x="674" y="5">State No.102, #1</text>
<ellipse cx="903" rx="64" ry="18"/><text x="903" y="5">State No.73, #4</text>
<ellipse cx="1226" rx="68" ry="18"/><text x="1226" y="5">State No.280, #2</text>
<ellipse cx="1539" rx="68" ry="18"/><text x="1539" y="5">State No.244, #2</text>
<ellipse cx="1697" rx="68" ry="18"/><text x="1697" y="5">State No.271, #2</text>
<ellipse cx="1915" rx="68" ry="18"/><text x="1915" y="5">State No.117, #2</text>
<ellipse cx="2230" rx="68" ry="18"/><text x="2230" y="5">State No.172, #2</text>
<ellipse cx="2386" rx="68" ry="18"/><text x="2386" y="5">State No.265, #2</text>
<ellipse cx="2694" rx="68" ry="18"/><text x="2694" y="5">State No.141, #2</text>
<ellipse cx="3004" rx="64" ry="18"/><text x="3004" y="5">State No.23, #2</text>
<ellipse cx="3151" rx="64" ry="18"/><text x="3151" y="5">State No.49, #2</text>
<ellipse cx="3305" rx="68" ry="18"/><text x="3305" y="5">State No.111, #2</text>
<ellipse cx="3618" rx="68" ry="18"/><text x="3618" y="5">State No.195, #2</text>
<ellipse cx="3932" rx="68" ry="18"/><text x="3932" y="5">State No.241, #2</text>
<ellipse cx="4391" rx="64" ry="18"/><text x="4391" y="5">State No.67, #1</text>
<ellipse cx="4849" rx="68" ry="18"/><text x="4849" y="5">State No.156, #1</text>
<ellipse cx="5007" rx="68" ry="18"/><text x="5007" y="5">State No.257, #1</text>
</g><g class="l">
<path d="M364 18V68"/><text x="366" y="48">floor_green_open:1</text>
<path d="M518 18V68"/><text x="520" y="48">empty_red_open:1</text>
<path d="M903 18V68"/><text x="905" y="48">empty_red_open:2</text>
<path d="M1226 18V68"/><text x="1228" y="48">empty_red_open:1</text>
<path d="M1539 18V68"/><text x="1541" y="48">empty_red_open:1</text>
<path d="M1697 18V68"/><text x="1699" y="48">floor_green_open:1</text>
<path d="M1915 18V68"/><text x="1917" y="48">water_blue_open:1</text>
<path d="M2230 18V68"/><text x="2232" y="48">empty_red_open:1</text>
<path d="M2386 18V68"/><text x="2388" y="48">floor_green_open:1</text>
<path d="M2694 18V68"/><text x="2696" y="48">water_blue_open:1</text>
<path d="M3004 18V68"/><text x="3006" y="48">empty_red_open:1</text>
<path d="M3151 18V68"/><text x="3153" y="48">empty_red_open:1</text>
<path d="M3305 18V68"/><text x="3307" y="48">empty_red_open:1</text>
<path d="M3618 18V68"/><text x="3620" y="48">empty_red_open:1</text>
<path d="M3932 18V68"/><text x="3934" y="48">floor_green_open:1</text>
</g></g>

<!-- r13 -->
<g transform="translate(0,1214)">
<g class="n">
<ellipse cx="364" rx="64" ry="18"/><text x="364" y="5">State No.83, #1</text>
<ellipse cx="518" rx="68" ry="18"/><text x="518" y="5">State No.224, #2</text>
<ellipse cx="903" rx="64" ry="18"/><text x="903" y="5">State No.74, #4</text>
<ellipse cx="1226" rx="68" ry="18"/><text x="1226" y="5">State No.281, #2</text>
<ellipse cx="1539" rx="68" ry="18"/><text x="1539" y="5">State No.245, #2</text>
<ellipse cx="1697" rx="68" ry="18"/><text x="1697" y="5">State No.272, #1</text>
<ellipse cx="1915" rx="68" ry="18"/><text x="1915" y="5">State No.118, #2</text>
<ellipse cx="2230" rx="68" ry="18"/><text x="2230" y="5">State No.173, #2</text>
<ellipse cx="2386" rx="68" ry="18"/><text x="2386" y="5">State No.266, #1</text>
<ellipse cx="2694" rx="68" ry="18"/><text x="2694" y="5">State No.142, #2</text>
<ellipse cx="3004" rx="64" ry="18"/><text x="3004" y="5">State No.24, #2</text>
<ellipse cx="3151" rx="64" ry="18"/><text x="3151" y="5">State No.50, #2</text>
<ellipse cx="3305" rx="68" ry="18"/><text x="3305" y="5">State No.112, #2</text>
<ellipse cx="3618" rx="68" ry="18"/><text x="3618" y="5">State No.196, #2</text>
<ellipse cx="3932" rx="68" ry="18"/><text x="3932" y="5">State No.242, #1</text>
</g><g class="l">
<path d="M518 18V68"/><text x="520" y="48">empty_red_open:1</text>
<path d="M903 18V68"/><text x="905" y="48">water_blue_open:2</text>
<path d="M1226 18V68"/><text x="1228" y="48">empty_red_open:1</text>
<path d="M1539 18V68"/><text x="1541" y="48">empty_red_open:1</text>
<path d="M1915 18V68"/><text x="1917" y="48">water_blue_open:1</text>
<path d="M2230 18V68"/><text x="2232" y="48">water_blue_open:1</text>
<path d="M2694 18V68"/><text x="2696" y="48">empty_red_open:1</text>
<path d="M3004 18V68"/><text x="3006" y="48">floor_green_open:1</text>
<path d="M3151 18V68"/><text x="3153" y="48">empty_red_open:1</text>
<path d="M3305 18V68"/><text x="3307" y="48">floor_green_open:1</text>
<path d="M3618 18V68"/><text x="3620" y="48">empty_red_open:1</text>
</g></g>

<!-- r14 -->
<g transform="translate(0,1300)">
<g class="n">
<ellipse cx="518" rx="68" ry="18"/><text x="518" y="5">State No.225, #2</text>
<ellipse cx="903" rx="64" ry="18"/><text x="903" y="5">State No.75, #4</text>
<ellipse cx="1226" rx="68" ry="18"/><text x="1226" y="5">State No.282, #2</text>
<ellipse cx="1539" rx="68" ry="18"/><text x="1539" y="5">State No.246, #2</text>
<ellipse cx="1915" rx="68" ry="18"/><text x="1915" y="5">State No.119, #2</text>
<ellipse cx="2230" rx="68" ry="18"/><text x="2230" y="5">State No.174, #2</text>
<ellipse cx="2694" rx="68" ry="18"/><text x="2694" y="5">State No.143, #2</text>
<ellipse cx="3004" rx="64" ry="18"/><text x="3004" y="5">State No.25, #1</text>
<ellipse cx="3151" rx="64" ry="18"/><text x="3151" y="5">State No.51, #2</text>
<ellipse cx="3305" rx="68" ry="18"/><text x="3305" y="5">State No.113, #1</text>
<ellipse cx="3618" rx="68" ry="18"/><text x="3618" y="5">State No.197, #2</text>
</g><g class="l">
<path d="M518 18V68"/><text x="520" y="48">floor_green_open:1</text>
<path d="M903 18V68"/><text x="905" y="48">empty_red_open:2</text>
<path d="M1226 18V68"/><text x="1228" y="48">empty_red_open:1</text>
<path d="M1539 18V68"/><text x="1541" y="48">empty_red_open:1</text>
<path d="M1915 18V68"/><text x="1917" y="48">empty_red_open:1</text>
<path d="M2230 18V68"/><text x="2232" y="48">water_blue_open:1</text>
<path d="M2694 18V68"/><text x="2696" y="48">empty_red_open:1</text>
<path d="M3151 18V68"/><text x="3153" y="48">empty_red_open:1</text>
<path d="M3618 18V68"/><text x="3620" y="48">empty_red_open:1</text>
</g></g>

<!-- r15 -->
<g transform="translate(0,1386)">
<g class="n">
<ellipse cx="518" rx="68" ry="18"/><text x="518" y="5">State No.226, #1</text>
<ellipse cx="903" rx="64" ry="18"/><text x="903" y="5">State No.76, #4</text>
<ellipse cx="1226" rx="68" ry="18"/><text x="1226" y="5">State No.283, #2</text>
<ellipse cx="1539" rx="68" ry="18"/><text x="1539" y="5">State No.247, #2</text>
<ellipse cx="1915" rx="68" ry="18"/><text x="1915" y="5">State No.120, #2</text>
<ellipse cx="2230" rx="68" ry="18"/><text x="2230" y="5">State No.175, #2</text>
<ellipse cx="2694" rx="68" ry="18"/><text x="2694" y="5">State No.144, #2</text>
<ellipse cx="3151" rx="64" ry="18"/><text x="3151" y="5">State No.52, #2</text>
<ellipse cx="3618" rx="68" ry="18"/><text x="3618" y="5">State No.198, #2</text>
</g><g class="l">
<path d="M903 18V68"/><text x="905" y="48">empty_red_open:2</text>
<path d="M1226 18V68"/><text x="1228" y="48">empty_red_open:1</text>
<path d="M1539 18V68"/><text x="1541" y="48">empty_red_open:1</text>
<path d="M1915 18V68"/><text x="1917" y="48">empty_red_open:1</text>
<path d="M2230 18V68"/><text x="2232" y="48">empty_red_open:1</text>
<path d="M2694 18V68"/><text x="2696" y="48">water_blue_open:1</text>
<path d="M3151 18V68"/><text x="3153" y="48">empty_red_open:1</text>
<path d="M3618 18V68"/><text x="3620" y="48">floor_green_open:1</text>
</g></g>

<!-- r16 -->
<g transform="translate(0,1472)">
<g class="n">
<ellipse cx="903" rx="64" ry="18"/><text x="903" y="5">State No.77, #4</text>
<ellipse cx="1226" rx="68" ry="18"/><text x="1226" y="5">State No.284, #2</text>
<ellipse cx="1539" rx="68" ry="18"/><text x="1539" y="5">State No.248, #2</text>
<ellipse cx="1915" rx="68" ry="18"/><text x="1915" y="5">State No.121, #2</text>
<ellipse cx="2230" rx="68" ry="18"/><text x="2230" y="5">State No.176, #2</text>
<ellipse cx="2694" rx="68" ry="18"/><text x="2694" y="5">State No.145, #2</text>
<ellipse cx="3151" rx="64" ry="18"/><text x="3151" y="5">State No.53, #2</text>
<ellipse cx="3618" rx="68" ry="18"/><text x="3618" y="5">State No.199, #1</text>
</g><g class="l">
<path d="M870 15L820 69"/><text x="832" y="48">empty_red_open:1</text>
<path d="M920 17L960 68"/><text x="948" y="48">floor_green_open:1</text>
<path d="M1226 18V68"/><text x="1228" y="48">empty_red_open:1</text>
<path d="M1539 18V68"/><text x="1541" y="48">floor_green_open:1</text>
<path d="M1915 18V68"/><text x="1917" y="48">empty_red_open:1</text>
<path d="M2230 18V68"/><text x="2232" y="48">empty_red_open:1</text>
<path d="M2694 18V68"/><text x="2696" y="48">empty_red_open:1</text>
<path d="M3151 18V68"/><text x="3153" y="48">floor_green_open:1</text>
</g></g>

<!-- r17 -->
<g transform="translate(0,1558)">
<g class="n">
<ellipse cx="814" rx="64" ry="18"/><text x="814" y="5">State No.78, #2</text>
<ellipse cx="969" rx="68" ry="18"/><text x="969" y="5">State No.130, #1</text>
<ellipse cx="1226" rx="68" ry="18"/><text x="1226" y="5">State No.285, #2</text>
<ellipse cx="1539" rx="68" ry="18"/><text x="1539" y="5">State No.249, #1</text>
<ellipse cx="1915" rx="68" ry="18"/><text x="1915" y="5">State No.122, #2</text>
<ellipse cx="2230" rx="68" ry="18"/><text x="2230" y="5">State No.177, #2</text>
<ellipse cx="2694" rx="68" ry="18"/><text x="2694" y="5">State No.146, #2</text>
<ellipse cx="3151" rx="64" ry="18"/><text x="3151" y="5">State No.54, #1</text>
</g><g class="l">
<path d="M814 18V68"/><text x="816" y="48">empty_red_open:1</text>
<path d="M1226 18V68"/><text x="1228" y="48">empty_red_open:1</text>
<path d="M1915 18V68"/><text x="1917" y="48">empty_red_open:1</text>
<path d="M2230 18V68"/><text x="2232" y="48">floor_green_open:1</text>
<path d="M2694 18V68"/><text x="2696" y="48">empty_red_open:1</text>
</g></g>

<!-- r18 -->
<g transform="translate(0,1644)">
<g class="n">
<ellipse cx="814" rx="64" ry="18"/><text x="814" y="5">State No.79, #2</text>
<ellipse cx="1226" rx="68" ry="18"/><text x="1226" y="5">State No.286, #2</text>
<ellipse cx="1915" rx="68" ry="18"/><text x="1915" y="5">State No.123, #2</text>
<ellipse cx="2230" rx="68" ry="18"/><text x="2230" y="5">State No.178, #1</text>
<ellipse cx="2694" rx="68" ry="18"/><text x="2694" y="5">State No.147, #2</text>
</g><g class="l">
<path d="M814 18V68"/><text x="816" y="48">floor_green_open:1</text>
<path d="M1226 18V68"/><text x="1228" y="48">floor_green_open:1</text>
<path d="M1915 18V68"/><text x="1917" y="48">floor_green_open:1</text>
<path d="M2694 18V68"/><text x="2696" y="48">floor_green_open:1</text>
</g></g>

<!-- r19 -->
<g transform="translate(0,1730)">
<g class="n">
<ellipse cx="814" rx="64" ry="18"/><text x="814" y="5">State No.80, #1</text>
<ellipse cx="1226" rx="68" ry="18"/><text x="1226" y="5">State No.287, #1</text>
<ellipse cx="1915" rx="68" ry="18"/><text x="1915" y="5">State No.124, #1</text>
<ellipse cx="2694" rx="68" ry="18"/><text x="2694" y="5">State No.148, #1</text>
</g></g>
</svg>
</body></html>
